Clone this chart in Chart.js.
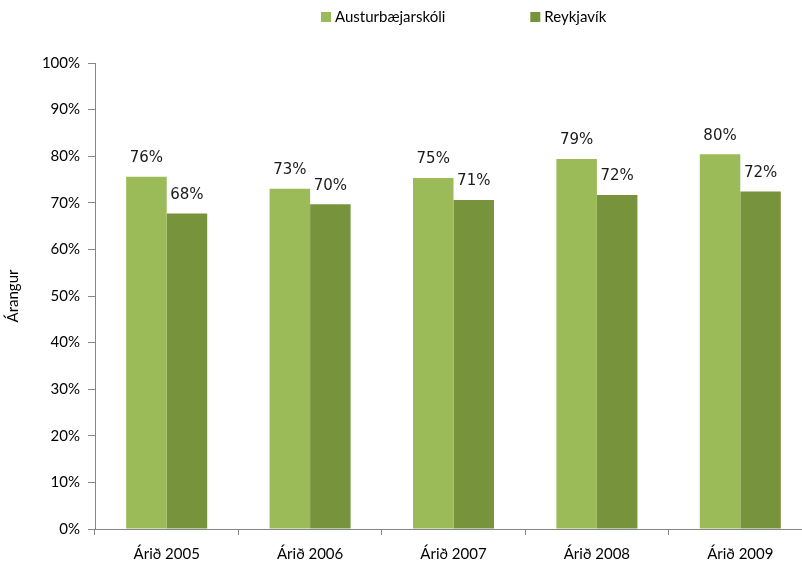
<!DOCTYPE html>
<html lang="is">
<head>
    <meta charset="UTF-8">
    <title>Árangur</title>
    <script src="https://cdn.jsdelivr.net/npm/chart.js"></script>
    <style>
        html, body { margin: 0; padding: 0; background: #fff; overflow: hidden; }
        .chart-container { position: relative; width: 816px; height: 569px; }
    </style>
</head>
<body>
    <div class="chart-container">
        <canvas id="arangurChart"></canvas>
    </div>
    <script>
        const years = ['Árið 2005', 'Árið 2006', 'Árið 2007', 'Árið 2008', 'Árið 2009'];
        const skoli = [75.6, 73.0, 75.3, 79.4, 80.4];
        const reykjavik = [67.7, 69.7, 70.6, 71.7, 72.4];
        const seriesNames = ['Austurbæjarskóli', 'Reykjavík'];
        const yTicks = [0, 10, 20, 30, 40, 50, 60, 70, 80, 90, 100];

        const axisFont = { family: 'Lato', size: 15 };

        // tölur fyrir ofan súlurnar
        const barLabels = {
            id: 'barLabels',
            afterDatasetsDraw(chart) {
                const ctx = chart.ctx;
                ctx.save();
                ctx.font = '15px "DejaVu Sans"';
                ctx.fillStyle = '#1a1a1a';
                ctx.textAlign = 'center';
                ctx.textBaseline = 'bottom';
                chart.data.datasets.forEach((ds, i) => {
                    chart.getDatasetMeta(i).data.forEach((bar, j) => {
                        ctx.fillText(Math.round(ds.data[j]) + '%', bar.x, bar.y - 11);
                    });
                });
                ctx.restore();
            }
        };

        // skýringar efst
        const topLegend = {
            id: 'topLegend',
            afterDraw(chart) {
                const ctx = chart.ctx;
                ctx.save();
                ctx.font = '15px Lato';
                ctx.textBaseline = 'middle';
                let x = 321;
                chart.data.datasets.forEach(ds => {
                    ctx.fillStyle = ds.backgroundColor;
                    ctx.fillRect(x, 12, 10, 10);
                    ctx.fillStyle = '#000';
                    ctx.fillText(ds.label, x + 14, 17);
                    x += 14 + ctx.measureText(ds.label).width + 85;
                });
                ctx.restore();
            }
        };

        new Chart(document.getElementById('arangurChart'), {
            type: 'bar',
            data: {
                labels: years,
                datasets: [{
                    label: seriesNames[0],
                    data: skoli,
                    backgroundColor: '#9bbb59',
                    categoryPercentage: 0.565,
                    barPercentage: 1
                }, {
                    label: seriesNames[1],
                    data: reykjavik,
                    backgroundColor: '#77933c',
                    categoryPercentage: 0.565,
                    barPercentage: 1
                }]
            },
            options: {
                responsive: true,
                maintainAspectRatio: false,
                animation: false,
                layout: { padding: { top: 63, right: 4, left: 0, bottom: 0 } },
                plugins: {
                    legend: { display: false },
                    tooltip: { enabled: false }
                },
                scales: {
                    x: {
                        grid: { offset: true, drawOnChartArea: false, tickLength: 6, color: '#868686' },
                        border: { color: '#868686', width: 1 },
                        ticks: { font: axisFont, color: '#000', padding: 10 },
                        afterFit: s => { s.height = 40; }
                    },
                    y: {
                        min: 0,
                        max: 100,
                        afterBuildTicks: s => { s.ticks = yTicks.map(v => ({ value: v })); },
                        grid: { drawOnChartArea: false, tickLength: 7, color: '#868686' },
                        border: { color: '#868686', width: 1 },
                        ticks: { font: axisFont, color: '#000', padding: 8, callback: v => v + '%' },
                        title: { display: true, text: 'Árangur', font: axisFont, color: '#000', padding: 4 },
                        afterFit: s => { s.width = 95; }
                    }
                }
            },
            plugins: [barLabels, topLegend]
        });
    </script>
</body>
</html>
